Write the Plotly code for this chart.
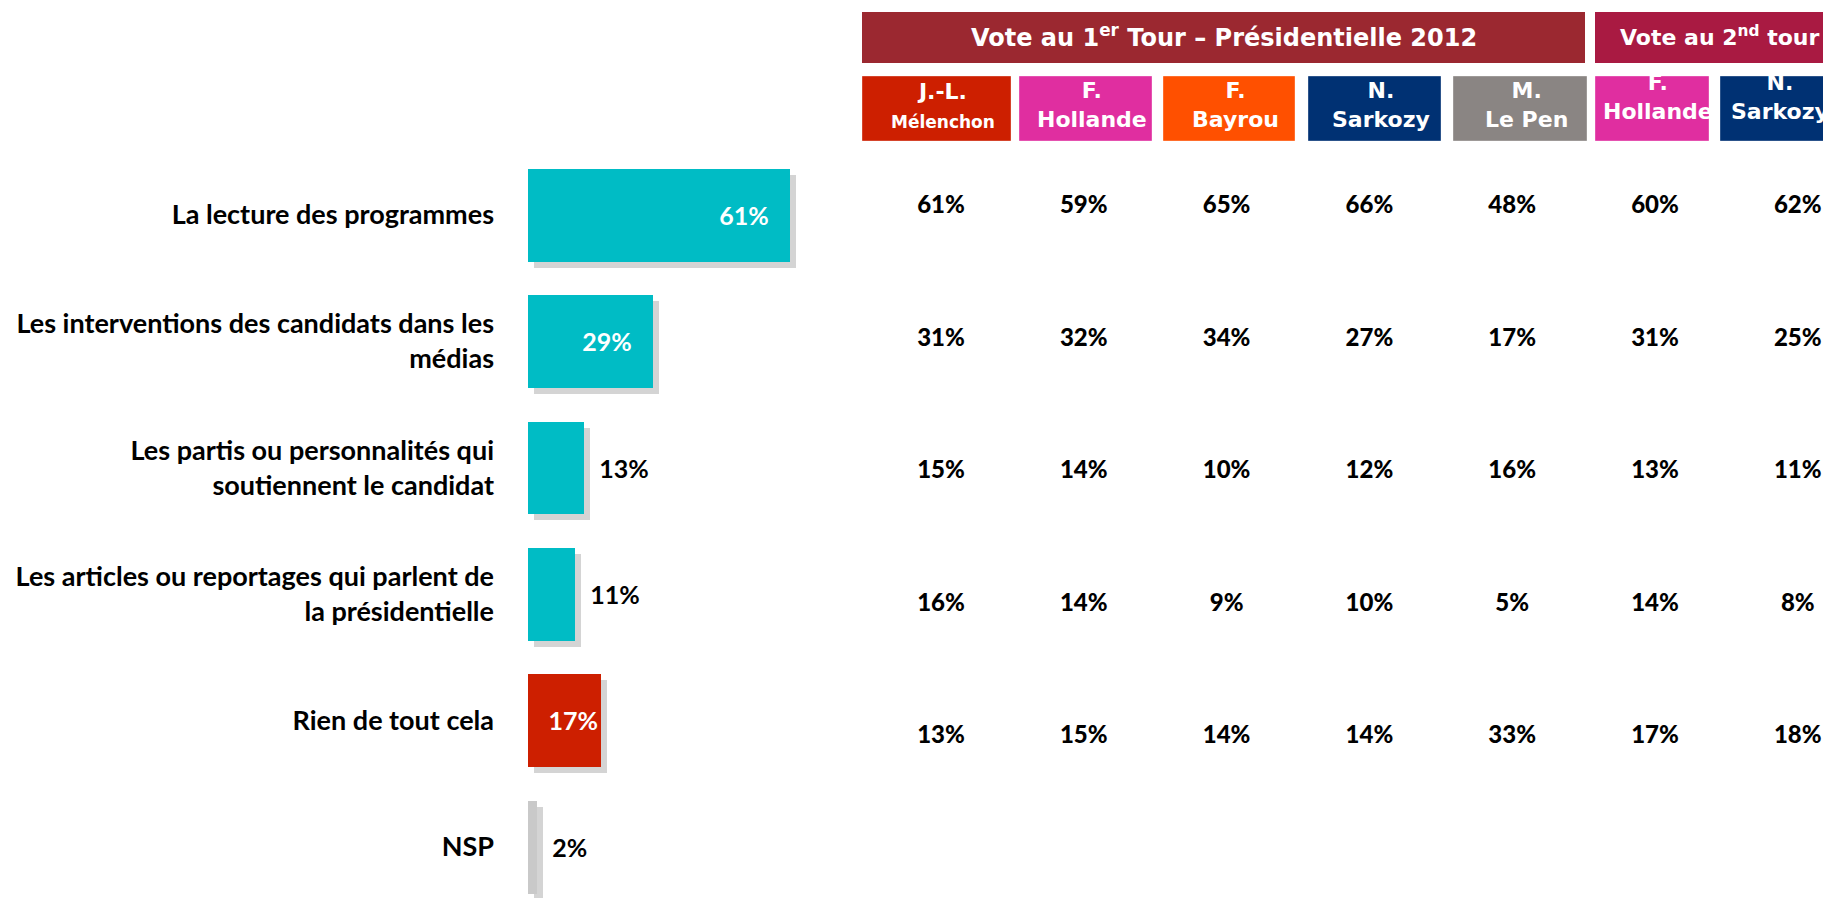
import plotly.graph_objects as go

# The page body has an 8px margin, so the figure is shrunk by that and
# every pixel position below is measured in reference-screen pixels, then shifted.
SCREEN_W, SCREEN_H = 1831, 898
OFF = 8
W, H = SCREEN_W - OFF, SCREEN_H - OFF

# ---------------- data ----------------
items = [
    "La lecture des programmes",
    "Les interventions des candidats dans les<br>médias",
    "Les partis ou personnalités qui<br>soutiennent le candidat",
    "Les articles ou reportages qui parlent de<br>la présidentielle",
    "Rien de tout cela",
    "NSP",
]
totals = [61, 29, 13, 11, 17, 2]
bar_colors = ["#00BCC5", "#00BCC5", "#00BCC5", "#00BCC5", "#CD1F00", "#C9C9C9"]
label_inside = [True, True, False, False, True, False]

col_keys = ["melenchon1", "hollande1", "bayrou1", "sarkozy1", "lepen1", "hollande2", "sarkozy2"]
col_names = ["J.-L.<br><span style='font-size:17px'>Mélenchon</span>", "F.<br>Hollande", "F.<br>Bayrou",
             "N.<br>Sarkozy", "M.<br>Le Pen", "F.<br>Hollande", "N.<br>Sarkozy"]
col_colors = ["#CD1F00", "#E02EA0", "#FF5000", "#003173", "#8A8583", "#E02EA0", "#003173"]
col_round = [1, 1, 1, 1, 1, 2, 2]

melenchon1 = [61, 31, 15, 16, 13]
hollande1 = [59, 32, 14, 14, 15]
bayrou1 = [65, 34, 10, 9, 14]
sarkozy1 = [66, 27, 12, 10, 14]
lepen1 = [48, 17, 16, 5, 33]
hollande2 = [60, 31, 13, 14, 17]
sarkozy2 = [62, 25, 11, 8, 18]
table_cols = [melenchon1, hollande1, bayrou1, sarkozy1, lepen1, hollande2, sarkozy2]
table_rows = items[:5]

round_titles = ["Vote au 1<sup>er</sup> Tour – Présidentielle 2012", "Vote au 2<sup>nd</sup> tour"]
round_colors = ["#9B2830", "#A91A42"]
round_title_sizes = [24, 22]

# ---------------- layout geometry (screen pixels) ----------------
bar_left, px_per_pct, x_max = 528 - OFF, 4.295, 70
bar_top, cat_px = 151.8 - OFF, 126.4
shadow = 6


def xdom(left, span):
    return [left / W, min(1, (left + span) / W)]


def px(x):
    return (x - OFF) / W


def py(y):
    return 1 - (y - OFF) / H


fig = go.Figure()

# shadow bars (drawn first, in subplot x/y)
fig.add_trace(go.Bar(
    x=totals, y=items, orientation="h", width=0.735,
    marker=dict(color="rgba(60,60,60,0.22)", line=dict(width=0)),
    hoverinfo="skip", xaxis="x", yaxis="y",
))

# main bars
pad_in = "\u00a0\u00a0\u00a0"
pad_out = "\u00a0\u00a0"
templates = []
for v, inside in zip(totals, label_inside):
    if inside:
        templates.append("%{x}%" + (pad_in if v >= 20 else ""))
    else:
        templates.append(pad_out + "%{x}%")
positions = ["inside" if inside else "outside" for inside in label_inside]
fig.add_trace(go.Bar(
    x=totals, y=items, orientation="h", width=0.735,
    marker=dict(color=bar_colors, line=dict(width=0)),
    texttemplate=templates, textposition=positions, insidetextanchor="end", textangle=0,
    insidetextfont=dict(family="Lato", size=25, color="white", weight="bold"),
    outsidetextfont=dict(family="Lato", size=25, color="black", weight="bold"),
    constraintext="none", cliponaxis=False,
    xaxis="x2", yaxis="y2",
))

# table of values by vote
tx, ty, tt = [], [], []
for key, vals in zip(col_keys, table_cols):
    for r, v in zip(table_rows, vals):
        tx.append(key)
        ty.append(r)
        tt.append(f"{v}%")
fig.add_trace(go.Scatter(
    x=tx, y=ty, text=tt, mode="text",
    textfont=dict(family="Lato", size=24, color="black", weight=900),
    xaxis="x3", yaxis="y3", hoverinfo="skip", cliponaxis=False,
))

# axes
y_span_main = (H - bar_top) / cat_px
y_span_sh = (H - bar_top - shadow) / cat_px
col_px = 142.8
t_left = 941 - OFF - col_px / 2
t_span = (W - t_left) / col_px
row_px = 132.5
t_top = 207 - OFF - row_px / 2
t_bottom = t_top + 5 * row_px

hidden = dict(showgrid=False, zeroline=False, showticklabels=False, showline=False, ticks="")
fig.update_layout(
    width=W, height=H, margin=dict(l=0, r=0, t=0, b=0),
    paper_bgcolor="white", plot_bgcolor="rgba(0,0,0,0)", showlegend=False,
    bargap=0,
    xaxis=dict(domain=xdom(bar_left + shadow, x_max * px_per_pct), range=[0, x_max], **hidden),
    yaxis=dict(domain=[0, 1 - (bar_top + shadow) / H], range=[y_span_sh - 0.5, -0.5],
               type="category", categoryorder="array", categoryarray=items, **hidden),
    xaxis2=dict(domain=xdom(bar_left, x_max * px_per_pct), range=[0, x_max], anchor="y2", **hidden),
    yaxis2=dict(domain=[0, 1 - bar_top / H], range=[y_span_main - 0.5, -0.5], anchor="x2",
                type="category", categoryorder="array", categoryarray=items,
                showgrid=False, zeroline=False, showline=False, ticks="",
                showticklabels=True, ticklabelstandoff=33,
                tickfont=dict(family="Lato", size=27, color="black", weight="bold")),
    xaxis3=dict(domain=[t_left / W, 1], range=[-0.5, t_span - 0.5], anchor="y3",
                type="category", categoryorder="array", categoryarray=col_keys, **hidden),
    yaxis3=dict(domain=[1 - t_bottom / H, 1 - t_top / H], range=[4.5, -0.5], anchor="x3",
                type="category", categoryorder="array", categoryarray=table_rows, **hidden),
)

# header boxes
shapes, annotations = [], []
round_extent = [(862, 1585), (1595, SCREEN_W + 20)]
for (x0, x1), col, title, tx_center, fs in zip(round_extent, round_colors, round_titles,
                                                [1224, 1719], round_title_sizes):
    shapes.append(dict(type="rect", xref="paper", yref="paper", x0=px(x0), x1=px(x1),
                       y0=py(63), y1=py(12), fillcolor=col, line=dict(width=0), layer="below"))
    annotations.append(dict(xref="paper", yref="paper", x=px(tx_center), y=py(36), text=title,
                            showarrow=False, xanchor="center", yanchor="middle",
                            font=dict(family="DejaVu Sans", size=fs, color="white", weight="bold")))

box_extent = [(862, 1011), (1019, 1152), (1163, 1295), (1308, 1441), (1453, 1587), (1595, 1709), (1720, 1828)]
for (x0, x1), name, col, rnd in zip(box_extent, col_names, col_colors, col_round):
    shapes.append(dict(type="rect", xref="paper", yref="paper", x0=px(x0), x1=px(x1),
                       y0=py(141), y1=py(76), fillcolor=col,
                       line=dict(width=1, color="rgba(255,255,255,0.35)"), layer="below"))
    yc = 105 if rnd == 1 else 97
    annotations.append(dict(xref="paper", yref="paper", x=px((x0 + x1) / 2 + 6), y=py(yc), text=name,
                            showarrow=False, xanchor="center", yanchor="middle",
                            font=dict(family="DejaVu Sans", size=22, color="white", weight="bold")))

fig.update_layout(shapes=shapes, annotations=annotations)
fig.write_html("out.html")
